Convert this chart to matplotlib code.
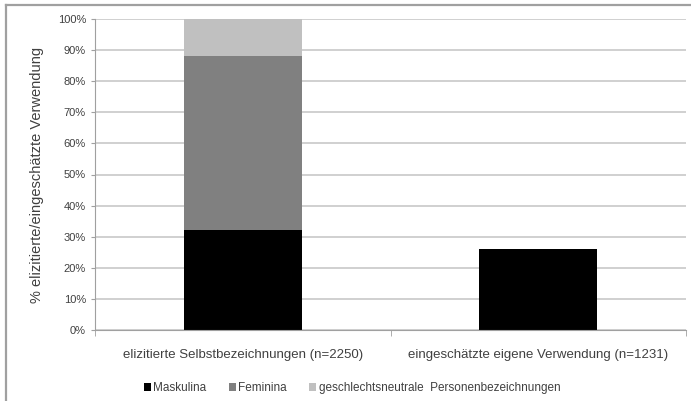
import matplotlib.pyplot as plt
from matplotlib.lines import Line2D
from matplotlib.ticker import PercentFormatter

plt.rcParams['font.family'] = ['Liberation Sans', 'DejaVu Sans']

categories = ["elizitierte Selbstbezeichnungen (n=2250)",
              "eingeschätzte eigene Verwendung (n=1231)"]
series_names = ["Maskulina", "Feminina", "geschlechtsneutrale  Personenbezeichnungen"]
maskulina = [32, 26]
feminina = [56, 0]
neutral = [12, 0]
colors = ["#000000", "#808080", "#c0c0c0"]

fig = plt.figure(figsize=(6.91, 4.01), dpi=100)
ax = fig.add_axes([95 / 691, 71 / 401, 591 / 691, 311 / 401])

x = list(range(len(categories)))
bottom = [0] * len(categories)
for name, vals, col in zip(series_names, [maskulina, feminina, neutral], colors):
    ax.bar(x, vals, width=0.4, bottom=bottom, color=col, label=name, zorder=2)
    bottom = [b + v for b, v in zip(bottom, vals)]

ax.set_xlim(-0.5, 1.5)
ax.set_ylim(0, 100)
ax.set_yticks(range(0, 101, 10))
ax.yaxis.set_major_formatter(PercentFormatter(decimals=0))
ax.set_xticks(x, categories)
ax.set_xticks([-0.5, 0.5, 1.5], minor=True)
ax.tick_params(axis='x', which='major', length=0, pad=14, labelsize=9.5, colors='#404040')
ax.tick_params(axis='x', which='minor', length=4, color='#a0a0a0')
ax.tick_params(axis='y', length=3, color='#a0a0a0', labelsize=8, labelcolor='#404040')
ax.grid(axis='y', color='#c8c8c8', linewidth=1.2, zorder=0)
ax.set_axisbelow(True)
for side in ['top', 'right']:
    ax.spines[side].set_visible(False)
for side in ['left', 'bottom']:
    ax.spines[side].set_color('#a0a0a0')
ax.set_ylabel("% elizitierte/eingeschätzte Verwendung", fontsize=10.5, color='#404040', labelpad=10)

ax.legend(loc='center', bbox_to_anchor=(352 / 691, 1 - 388 / 401), bbox_transform=fig.transFigure,
          ncol=3, frameon=False, fontsize=8.5, handlelength=0.6, handleheight=0.6,
          handletextpad=0.2, columnspacing=1.9, labelcolor='#404040')

# outer chart frame (top and left edges visible)
fig.add_artist(Line2D([6 / 691, 690 / 691], [1 - 5 / 401, 1 - 5 / 401], color='#a0a0a0', lw=1.6))
fig.add_artist(Line2D([6 / 691, 6 / 691], [0, 1 - 5 / 401], color='#a0a0a0', lw=1.6))

fig.savefig("out.png", dpi=100)
